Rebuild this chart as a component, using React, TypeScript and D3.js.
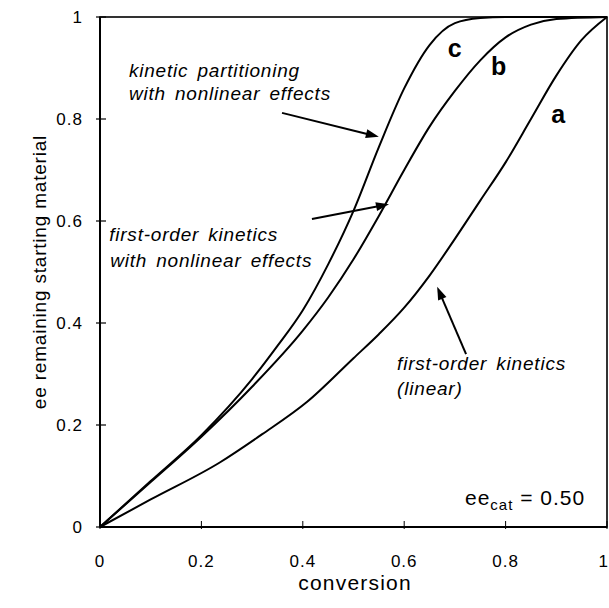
import * as d3 from "d3";

// conversion vs ee of remaining starting material, ee_cat = 0.50
const curveA: [number, number][] = [
  [0, 0], [0.1, 0.054], [0.237, 0.127], [0.32, 0.182], [0.408, 0.245],
  [0.5, 0.331], [0.55, 0.378], [0.6, 0.43], [0.65, 0.493], [0.7, 0.565], [0.75, 0.64],
  [0.8, 0.715], [0.85, 0.8], [0.9, 0.885], [0.95, 0.955], [1, 1],
];
const curveB: [number, number][] = [
  [0, 0], [0.1, 0.088], [0.2, 0.177], [0.3, 0.275], [0.4, 0.385], [0.45, 0.45],
  [0.5, 0.525], [0.55, 0.61], [0.6, 0.7], [0.65, 0.785], [0.7, 0.855], [0.75, 0.915],
  [0.8, 0.96], [0.85, 0.985], [0.9, 0.996], [1, 1],
];
const curveC: [number, number][] = [
  [0, 0], [0.1, 0.09], [0.2, 0.18], [0.3, 0.29], [0.35, 0.355], [0.4, 0.425],
  [0.45, 0.515], [0.5, 0.62], [0.55, 0.745], [0.6, 0.86], [0.65, 0.945], [0.7, 0.988],
  [0.75, 0.998], [0.8, 1], [1, 1],
];
const xTicks = [0, 0.2, 0.4, 0.6, 0.8, 1];
const yTicks = [0, 0.2, 0.4, 0.6, 0.8, 1];

// curve letters [label, x, y]
const curveLabels: [string, number, number][] = [
  ["c", 0.686, 0.922],
  ["b", 0.771, 0.886],
  ["a", 0.89, 0.792],
];
// annotation text lines [text, x, y]
const notes: [string, number, number][] = [
  ["kinetic partitioning", 0.057, 0.882],
  ["with nonlinear effects", 0.057, 0.837],
  ["first-order kinetics", 0.018, 0.561],
  ["with nonlinear effects", 0.02, 0.51],
  ["first-order kinetics", 0.586, 0.308],
  ["(linear)", 0.586, 0.259],
];
// arrows [x1, y1, x2 (tip), y2 (tip)]
const arrows: [number, number, number, number][] = [
  [0.359, 0.812, 0.55, 0.765],
  [0.418, 0.604, 0.57, 0.633],
  [0.722, 0.339, 0.665, 0.471],
];

const W = 609;
const H = 608;
const margin = { top: 17, right: 2, bottom: 81, left: 100 };
const font = "'Liberation Sans', Arial, Helvetica, sans-serif";

const App = () => {
  const x = d3.scaleLinear().domain([0, 1]).range([margin.left, W - margin.right]);
  const y = d3.scaleLinear().domain([0, 1]).range([H - margin.bottom, margin.top]);
  const line = d3
    .line<[number, number]>()
    .x(d => x(d[0]))
    .y(d => y(d[1]))
    .curve(d3.curveMonotoneX);

  const arrowHead = (a: [number, number, number, number]) => {
    const x1 = x(a[0]), y1 = y(a[1]), x2 = x(a[2]), y2 = y(a[3]);
    const len = Math.hypot(x2 - x1, y2 - y1);
    const ux = (x2 - x1) / len, uy = (y2 - y1) / len;
    const hl = 13, hw = 4.5;
    const bx = x2 - ux * hl, by = y2 - uy * hl;
    return {
      shaft: [x1, y1, bx + ux * 2, by + uy * 2],
      head: `${x2},${y2} ${bx - uy * hw},${by + ux * hw} ${bx + uy * hw},${by - ux * hw}`,
    };
  };

  return (
    <div style={{ position: "absolute", left: 0, top: 0 }}>
      <svg width={W} height={H} style={{ background: "#fff", display: "block" }} fontFamily={font}>
        {/* frame */}
        <rect
          x={x(0)} y={y(1)} width={x(1) - x(0)} height={y(0) - y(1)}
          fill="none" stroke="#000" strokeWidth={1.6}
        />
        <line x1={x(0)} x2={x(0)} y1={y(0)} y2={y(1)} stroke="#000" strokeWidth={2} />
        <line x1={x(0)} x2={x(1)} y1={y(0)} y2={y(0)} stroke="#000" strokeWidth={2.2} />

        {/* ticks */}
        {xTicks.map(t => (
          <g key={"x" + t}>
            <line x1={x(t)} x2={x(t)} y1={y(0) + 2} y2={y(0) - 6} stroke="#000" strokeWidth={1} />
            <text
              x={t === 1 ? W - 1 : x(t)} y={567}
              textAnchor={t === 1 ? "end" : "middle"} fontSize={17} letterSpacing={t === 1 ? 0 : 1}
            >
              {d3.format("~g")(t)}
            </text>
          </g>
        ))}
        {yTicks.map(t => (
          <g key={"y" + t}>
            <line x1={x(0) - 4} x2={x(0) + 6} y1={y(t)} y2={y(t)} stroke="#000" strokeWidth={1.2} />
            <text x={83} y={y(t)} dy="0.36em" textAnchor="end" fontSize={17} letterSpacing={1}>
              {d3.format("~g")(t)}
            </text>
          </g>
        ))}

        {/* axis titles */}
        <text x={355} y={590} textAnchor="middle" fontSize={21} letterSpacing={1.2}>
          conversion
        </text>
        <text
          transform={`translate(46, ${272}) rotate(-90)`}
          textAnchor="middle" fontSize={19} letterSpacing={0.8}
        >
          ee remaining starting material
        </text>

        {/* curves */}
        {[curveA, curveB, curveC].map((c, i) => (
          <path key={i} d={line(c) ?? ""} fill="none" stroke="#000" strokeWidth={2} />
        ))}

        {/* curve letters */}
        {curveLabels.map(([t, lx, ly]) => (
          <text key={t} x={x(lx)} y={y(ly)} fontSize={25} fontWeight="bold">
            {t}
          </text>
        ))}

        {/* annotations */}
        {notes.map(([t, nx, ny], i) => (
          <text
            key={i} x={x(nx)} y={y(ny)} fontSize={19} fontStyle="italic"
            letterSpacing={0.8} wordSpacing={3}
          >
            {t}
          </text>
        ))}
        {arrows.map((a, i) => {
          const h = arrowHead(a);
          return (
            <g key={i}>
              <line x1={h.shaft[0]} y1={h.shaft[1]} x2={h.shaft[2]} y2={h.shaft[3]} stroke="#000" strokeWidth={2} />
              <polygon points={h.head} fill="#000" />
            </g>
          );
        })}

        {/* ee_cat */}
        <text x={x(0.957)} y={y(0.043)} textAnchor="end" fontSize={21} letterSpacing={1}>
          ee<tspan fontSize={15} dy={5}>cat</tspan>
          <tspan dy={-5}> = 0.50</tspan>
        </text>
      </svg>
    </div>
  );
};

export default App;
